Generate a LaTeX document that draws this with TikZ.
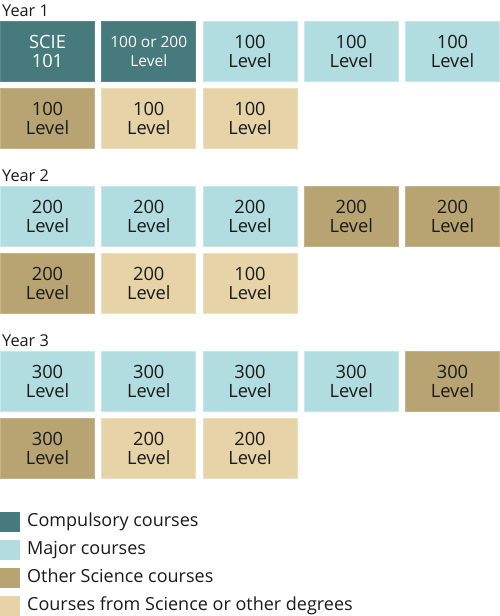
\documentclass[tikz,border=0pt]{standalone}
\usepackage{fontspec}
\setmainfont{Open Sans}
\definecolor{comp}{HTML}{477A7D}
\definecolor{compb}{HTML}{5A888B}
\definecolor{major}{HTML}{B1DDE1}
\definecolor{majorb}{HTML}{C6E8EB}
\definecolor{oth}{HTML}{B8A473}
\definecolor{othb}{HTML}{C6B487}
\definecolor{free}{HTML}{E6D4A8}
\definecolor{freeb}{HTML}{EEDFBB}
\definecolor{txt}{HTML}{1A1A1A}
\tikzset{
  box/.style={rectangle, minimum width=94pt, minimum height=60pt, line width=1pt, inner sep=0pt, align=center, text=txt, font=\fontsize{18.3}{19}\selectfont},
  cbox/.style={box, fill=comp, draw=compb, text=white},
  mbox/.style={box, fill=major, draw=majorb},
  obox/.style={box, fill=oth, draw=othb},
  fbox/.style={box, fill=free, draw=freeb},
  yearlbl/.style={anchor=base west, inner sep=0pt, text=txt, font=\fontsize{16.3}{20}\selectfont},
  legsq/.style={rectangle, minimum width=20pt, minimum height=20pt, inner sep=0pt, anchor=north west},
  legtxt/.style={anchor=base west, inner sep=0pt, text=txt, font=\fontsize{18}{20}\selectfont},
}
\begin{document}
\begin{tikzpicture}[x=1pt,y=-1pt]
\useasboundingbox (0,0) rectangle (500,616);
% Year 1
\node[yearlbl] (y1) at (2,16) {Year 1};
\node[cbox] (a1) at (47.5,51.5) {SCIE\\101};
\node[cbox, font=\fontsize{15.5}{19}\selectfont] (a2) at (148.75,51.5) {100 or 200\\Level};
\node[mbox] (a3) at (250,51.5) {100\\Level};
\node[mbox] (a4) at (351.25,51.5) {100\\Level};
\node[mbox] (a5) at (452.5,51.5) {100\\Level};
\node[obox] (b1) at (47.5,118) {100\\Level};
\node[fbox] (b2) at (148.75,118) {100\\Level};
\node[fbox] (b3) at (250,118) {100\\Level};
% Year 2
\node[yearlbl] (y2) at (2,181) {Year 2};
\node[mbox] (c1) at (47.5,216.5) {200\\Level};
\node[mbox] (c2) at (148.75,216.5) {200\\Level};
\node[mbox] (c3) at (250,216.5) {200\\Level};
\node[obox] (c4) at (351.25,216.5) {200\\Level};
\node[obox] (c5) at (452.5,216.5) {200\\Level};
\node[obox] (d1) at (47.5,283) {200\\Level};
\node[fbox] (d2) at (148.75,283) {200\\Level};
\node[fbox] (d3) at (250,283) {100\\Level};
% Year 3
\node[yearlbl] (y3) at (2,346) {Year 3};
\node[mbox] (e1) at (47.5,381.5) {300\\Level};
\node[mbox] (e2) at (148.75,381.5) {300\\Level};
\node[mbox] (e3) at (250,381.5) {300\\Level};
\node[mbox] (e4) at (351.25,381.5) {300\\Level};
\node[obox] (e5) at (452.5,381.5) {300\\Level};
\node[obox] (f1) at (47.5,448) {300\\Level};
\node[fbox] (f2) at (148.75,448) {200\\Level};
\node[fbox] (f3) at (250,448) {200\\Level};
% Legend
\node[legsq, fill=comp] (l1) at (0,512) {};
\node[legtxt] (t1) at (27,526) {Compulsory courses};
\node[legsq, fill=major] (l2) at (0,540) {};
\node[legtxt] (t2) at (27,554) {Major courses};
\node[legsq, fill=oth] (l3) at (0,568) {};
\node[legtxt] (t3) at (27,582) {Other Science courses};
\node[legsq, fill=free] (l4) at (0,596) {};
\node[legtxt] (t4) at (27,610) {Courses from Science or other degrees};
\end{tikzpicture}
\end{document}
